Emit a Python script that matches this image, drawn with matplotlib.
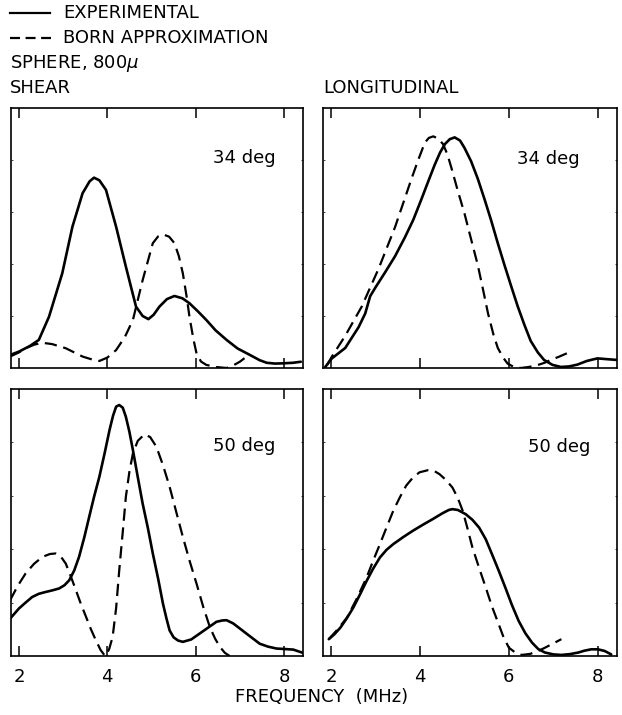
import matplotlib
matplotlib.use("Agg")
import matplotlib.pyplot as plt
from matplotlib.lines import Line2D

# ---------------- data (frequency in MHz, relative amplitude 0..1) ----------------
shear34_exp_f = [1.80, 2.00, 2.25, 2.45, 2.68, 2.98, 3.21, 3.44, 3.60, 3.70, 3.82, 3.97, 4.20, 4.42, 4.65,
                 4.80, 4.93, 5.05, 5.18, 5.35, 5.52, 5.70, 5.86, 6.05, 6.24, 6.45, 6.70, 6.95, 7.23, 7.45,
                 7.61, 7.80, 7.98, 8.20, 8.38]
shear34_exp_a = [0.050, 0.063, 0.085, 0.108, 0.197, 0.364, 0.543, 0.672, 0.718, 0.732, 0.722, 0.685, 0.543,
                 0.390, 0.236, 0.200, 0.188, 0.205, 0.236, 0.265, 0.277, 0.268, 0.249, 0.218, 0.185, 0.145,
                 0.108, 0.075, 0.050, 0.030, 0.020, 0.017, 0.018, 0.020, 0.024]
shear34_born_f = [1.80, 2.00, 2.15, 2.35, 2.53, 2.75, 3.06, 3.25, 3.44, 3.65, 3.82, 4.00, 4.20, 4.40, 4.58,
                  4.80, 5.03, 5.15, 5.26, 5.40, 5.52, 5.62, 5.71, 5.80, 5.86, 5.95, 6.02, 6.12, 6.24, 6.45,
                  6.70, 6.85, 7.00, 7.23]
shear34_born_a = [0.044, 0.060, 0.076, 0.090, 0.097, 0.092, 0.076, 0.060, 0.044, 0.033, 0.027, 0.040,
                  0.069, 0.120, 0.185, 0.338, 0.480, 0.506, 0.514, 0.505, 0.480, 0.430, 0.364, 0.270,
                  0.197, 0.110, 0.056, 0.025, 0.012, 0.004, 0.000, 0.010, 0.024, 0.054]

long34_exp_f = [1.87, 2.02, 2.32, 2.62, 2.77, 2.88, 3.00, 3.22, 3.44, 3.66, 3.85, 4.03, 4.18, 4.33, 4.45,
                4.56, 4.67, 4.78, 4.90, 5.00, 5.15, 5.30, 5.45, 5.60, 5.75, 5.90, 6.05, 6.20, 6.35, 6.49,
                6.65, 6.79, 6.98, 7.17, 7.35, 7.54, 7.75, 7.99, 8.20, 8.43]
long34_exp_a = [0.004, 0.037, 0.077, 0.157, 0.210, 0.276, 0.310, 0.369, 0.430, 0.502, 0.570, 0.648, 0.715,
                0.781, 0.828, 0.861, 0.880, 0.887, 0.875, 0.847, 0.795, 0.728, 0.650, 0.568, 0.480, 0.396,
                0.315, 0.236, 0.165, 0.104, 0.060, 0.031, 0.012, 0.004, 0.006, 0.013, 0.027, 0.037, 0.034,
                0.031]
long34_born_f = [1.91, 2.02, 2.32, 2.69, 3.07, 3.44, 3.81, 3.96, 4.11, 4.20, 4.30, 4.41, 4.52, 4.62, 4.71,
                 4.85, 5.00, 5.15, 5.30, 5.42, 5.53, 5.65, 5.75, 5.87, 5.97, 6.10, 6.27, 6.45, 6.64, 6.80,
                 6.94, 7.12, 7.31]
long34_born_a = [0.011, 0.044, 0.124, 0.236, 0.382, 0.542, 0.728, 0.800, 0.867, 0.885, 0.891, 0.882, 0.861,
                 0.820, 0.768, 0.682, 0.595, 0.495, 0.396, 0.300, 0.210, 0.130, 0.077, 0.040, 0.017, 0.005,
                 0.000, 0.004, 0.011, 0.020, 0.031, 0.043, 0.057]

shear50_exp_f = [1.80, 2.00, 2.15, 2.30, 2.45, 2.61, 2.76, 2.91, 3.03, 3.14, 3.25, 3.36, 3.48, 3.59, 3.70,
                 3.82, 3.94, 4.05, 4.13, 4.20, 4.27, 4.35, 4.42, 4.50, 4.58, 4.69, 4.80, 4.92, 5.03, 5.15,
                 5.26, 5.34, 5.41, 5.50, 5.60, 5.71, 5.90, 6.09, 6.28, 6.47, 6.60, 6.70, 6.85, 7.00, 7.22,
                 7.45, 7.64, 7.83, 8.02, 8.21, 8.44]
shear50_exp_a = [0.140, 0.178, 0.200, 0.221, 0.233, 0.240, 0.246, 0.253, 0.265, 0.284, 0.320, 0.371, 0.445,
                 0.521, 0.596, 0.671, 0.760, 0.846, 0.900, 0.934, 0.940, 0.930, 0.896, 0.840, 0.771, 0.670,
                 0.571, 0.478, 0.384, 0.290, 0.196, 0.140, 0.096, 0.070, 0.058, 0.053, 0.062, 0.084, 0.106,
                 0.128, 0.133, 0.134, 0.122, 0.103, 0.075, 0.046, 0.035, 0.028, 0.026, 0.024, 0.011]
shear50_born_f = [1.80, 1.97, 2.15, 2.34, 2.53, 2.70, 2.83, 2.95, 3.06, 3.17, 3.29, 3.40, 3.52, 3.63, 3.74,
                  3.85, 3.95, 4.04, 4.12, 4.20, 4.27, 4.35, 4.42, 4.50, 4.58, 4.69, 4.84, 4.97, 5.11, 5.26,
                  5.41, 5.56, 5.71, 5.86, 6.02, 6.17, 6.32, 6.44, 6.55, 6.66, 6.77]
shear50_born_a = [0.209, 0.262, 0.309, 0.345, 0.371, 0.382, 0.384, 0.372, 0.346, 0.300, 0.246, 0.196, 0.146,
                  0.100, 0.059, 0.022, 0.000, 0.025, 0.071, 0.180, 0.321, 0.465, 0.596, 0.690, 0.759, 0.806,
                  0.830, 0.820, 0.784, 0.715, 0.634, 0.540, 0.446, 0.358, 0.271, 0.185, 0.109, 0.065, 0.034,
                  0.012, 0.000]

long50_exp_f = [1.95, 2.08, 2.21, 2.35, 2.50, 2.65, 2.80, 2.95, 3.10, 3.25, 3.40, 3.62, 3.84, 4.06, 4.29,
                4.51, 4.65, 4.73, 4.85, 5.03, 5.18, 5.33, 5.48, 5.62, 5.77, 5.92, 6.07, 6.22, 6.37, 6.52,
                6.66, 6.81, 7.00, 7.18, 7.37, 7.56, 7.70, 7.85, 8.00, 8.15, 8.30]
long50_exp_a = [0.063, 0.082, 0.106, 0.140, 0.181, 0.230, 0.281, 0.328, 0.369, 0.398, 0.419, 0.445, 0.469,
                0.491, 0.513, 0.535, 0.547, 0.550, 0.547, 0.531, 0.510, 0.481, 0.437, 0.381, 0.320, 0.256,
                0.190, 0.131, 0.085, 0.050, 0.026, 0.013, 0.006, 0.004, 0.007, 0.013, 0.020, 0.025, 0.025,
                0.019, 0.006]
long50_born_f = [1.95, 2.15, 2.36, 2.58, 2.80, 2.95, 3.10, 3.25, 3.40, 3.55, 3.69, 3.84, 3.99, 4.18, 4.31,
                 4.44, 4.58, 4.73, 4.85, 4.96, 5.07, 5.18, 5.33, 5.48, 5.62, 5.77, 5.88, 6.00, 6.15, 6.29,
                 6.48, 6.66, 6.81, 6.96, 7.18]
long50_born_a = [0.063, 0.100, 0.144, 0.215, 0.294, 0.358, 0.419, 0.482, 0.544, 0.595, 0.638, 0.668, 0.688,
                 0.696, 0.694, 0.681, 0.660, 0.631, 0.592, 0.544, 0.477, 0.406, 0.330, 0.256, 0.185, 0.119,
                 0.070, 0.031, 0.012, 0.004, 0.008, 0.019, 0.031, 0.044, 0.063]

xticks = [2, 4, 6, 8]
xtick_labels = ["2", "4", "6", "8"]
panel_labels = ["34 deg", "34 deg", "50 deg", "50 deg"]

# ---------------- figure ----------------
W, H = 622, 715
fig = plt.figure(figsize=(W / 100, H / 100), dpi=100)
fig.patch.set_facecolor("white")
FONT = "DejaVu Sans"
FS = 13


def px_axes(x0, y0, x1, y1):
    return fig.add_axes([x0 / W, 1 - y1 / H, (x1 - x0) / W, (y1 - y0) / H])


ax_tl = px_axes(11, 108, 303, 368)
ax_tr = px_axes(323, 108, 617, 368)
ax_bl = px_axes(11, 389, 303, 656)
ax_br = px_axes(323, 389, 617, 656)

panels = [
    (ax_tl, shear34_exp_f, shear34_exp_a, shear34_born_f, shear34_born_a, panel_labels[0], (0.692, 0.788)),
    (ax_tr, long34_exp_f, long34_exp_a, long34_born_f, long34_born_a, panel_labels[1], (0.660, 0.785)),
    (ax_bl, shear50_exp_f, shear50_exp_a, shear50_born_f, shear50_born_a, panel_labels[2], (0.692, 0.768)),
    (ax_br, long50_exp_f, long50_exp_a, long50_born_f, long50_born_a, panel_labels[3], (0.697, 0.764)),
]

for i, (ax, ef, ea, bf, ba, lab, (tx, ty)) in enumerate(panels):
    ax.plot(ef, ea, color="black", lw=1.9, solid_joinstyle="round", solid_capstyle="round")
    ax.plot(bf, ba, color="black", lw=1.6, dashes=(5.5, 3.0))
    ax.set_xlim(1.82, 8.43)
    ax.set_ylim(0, 1)
    ax.set_xticks(xticks)
    ax.set_yticks([0.2, 0.4, 0.6, 0.8])
    ax.tick_params(axis="x", which="major", direction="in", top=True, bottom=True,
                   length=7.5, width=1.1, pad=9, labelsize=FS)
    ax.tick_params(axis="y", which="major", direction="in", left=True, right=True,
                   length=1.5, width=0.5, labelleft=False)
    if i >= 2:
        ax.set_xticklabels(xtick_labels, family=FONT)
    else:
        ax.set_xticklabels([])
    for sp in ax.spines.values():
        sp.set_linewidth(1.2)
    ax.text(tx, ty, lab, transform=ax.transAxes, fontsize=FS, family=FONT,
            ha="left", va="baseline")


def ftext(x, y, s, **kw):
    fig.text(x / W, 1 - y / H, s, family=FONT, **kw)


# legend block at top
fig.add_artist(Line2D([10 / W, 50 / W], [1 - 13 / H, 1 - 13 / H], color="black", lw=1.6))
fig.add_artist(Line2D([10 / W, 51 / W], [1 - 38 / H, 1 - 38 / H], color="black", lw=1.6,
                      dashes=(4.5, 2.5)))
ftext(63, 13, "EXPERIMENTAL", fontsize=FS, va="center", ha="left")
ftext(63, 38, "BORN APPROXIMATION", fontsize=FS, va="center", ha="left")
ftext(10, 64, "SPHERE, 800$\\mu$", fontsize=FS, va="center", ha="left")
ftext(10, 88, "SHEAR", fontsize=FS, va="center", ha="left")
ftext(323, 88, "LONGITUDINAL", fontsize=FS, va="center", ha="left")

ftext(322, 697, "FREQUENCY  (MHz)", fontsize=FS, va="center", ha="center")

fig.savefig("out.png", dpi=100, facecolor="white")
